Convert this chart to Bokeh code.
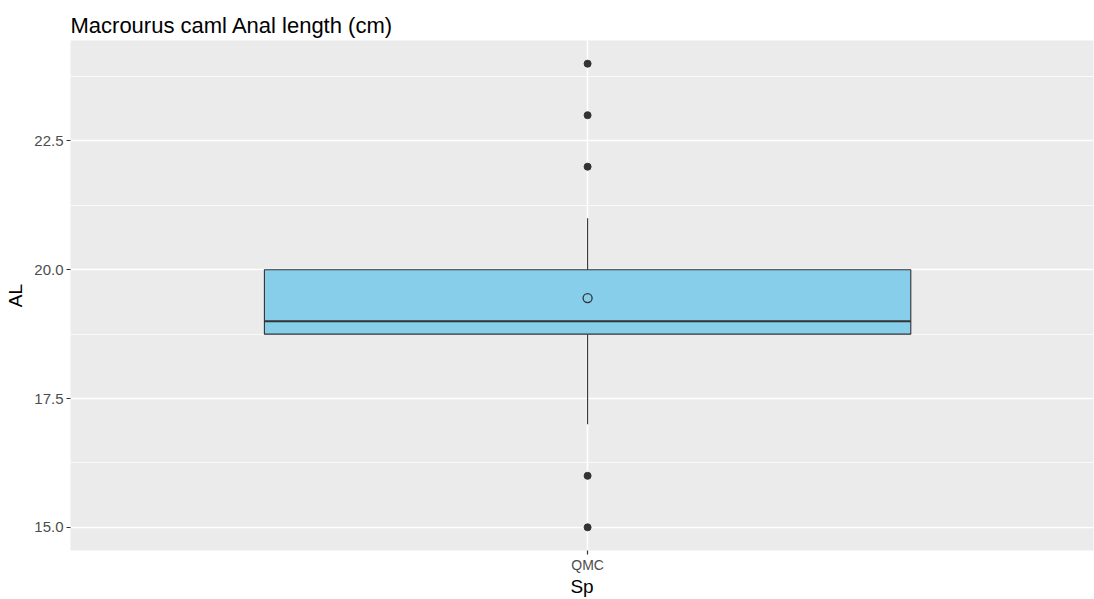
from bokeh.plotting import figure
from bokeh.models import FixedTicker, Range1d
from bokeh.embed import file_html
from bokeh.resources import INLINE

# ---- data ----
categories = ["QMC"]
q1 = [18.75]
median = [19.0]
q3 = [20.0]
whisker_low = [17.0]
whisker_high = [21.0]
means = [19.45]
outlier_values = [24.0, 23.0, 22.0, 16.0, 15.0]
y_ticks = [15.0, 17.5, 20.0, 22.5]
y_minor = [16.25, 18.75, 21.25, 23.75]

xpos = [i + 1 for i in range(len(categories))]
box_w = 0.75

p = figure(width=1094, height=599, output_backend="svg", toolbar_location=None,
           x_range=Range1d(0.4, 1.587), y_range=Range1d(14.55, 24.45),
           min_border_left=70, min_border_top=40, min_border_right=1,
           min_border_bottom=48)

p.background_fill_color = "#EBEBEB"
p.border_fill_color = "white"
p.outline_line_color = None

# title
p.title.text = "Macrourus caml Anal length (cm)"
p.title.text_font = "Liberation Sans"
p.title.text_font_size = "22px"
p.title.text_font_style = "normal"
p.title.text_color = "black"
p.title.align = "left"
p.title.offset = 0
p.title.standoff = 6

# grid
p.ygrid.ticker = FixedTicker(ticks=y_ticks, minor_ticks=y_minor)
p.ygrid.grid_line_color = "white"
p.ygrid.grid_line_width = 1.5
p.ygrid.minor_grid_line_color = "white"
p.ygrid.minor_grid_line_width = 0.75
p.xgrid.ticker = FixedTicker(ticks=xpos)
p.xgrid.grid_line_color = "white"
p.xgrid.grid_line_width = 1.5

# axes
for ax in (p.xaxis[0], p.yaxis[0]):
    ax.axis_line_color = None
    ax.major_tick_line_color = "#333333"
    ax.major_tick_line_width = 1.2
    ax.major_tick_out = 4
    ax.major_tick_in = 0
    ax.minor_tick_line_color = None
    ax.major_label_text_font = "Liberation Sans"
    ax.major_label_text_color = "#4D4D4D"
    ax.axis_label_text_font = "Liberation Sans"
    ax.axis_label_text_font_size = "19px"
    ax.axis_label_text_font_style = "normal"
    ax.axis_label_text_color = "black"

p.yaxis.ticker = FixedTicker(ticks=y_ticks)
p.yaxis.major_label_overrides = {t: f"{t:.1f}" for t in y_ticks}
p.yaxis.major_label_text_font_size = "15px"
p.yaxis.major_label_standoff = 3
p.yaxis.axis_label = "AL"
p.yaxis.axis_label_standoff = 5

p.xaxis.ticker = FixedTicker(ticks=xpos)
p.xaxis.major_label_overrides = {x: c for x, c in zip(xpos, categories)}
p.xaxis.major_label_text_font_size = "14px"
p.xaxis.major_label_standoff = 2
p.xaxis.axis_label = "Sp"
p.xaxis.axis_label_standoff = 0

# whiskers
p.segment(x0=xpos, y0=q3, x1=xpos, y1=whisker_high, line_color="#333333", line_width=1.1)
p.segment(x0=xpos, y0=whisker_low, x1=xpos, y1=q1, line_color="#333333", line_width=1.1)

# box
p.vbar(x=xpos, width=box_w, bottom=q1, top=q3, fill_color="#87CEEB",
       line_color="#333333", line_width=1.1)

# median
p.segment(x0=[x - box_w / 2 for x in xpos], y0=median,
          x1=[x + box_w / 2 for x in xpos], y1=median,
          line_color="#333333", line_width=2.2)

# outliers
p.scatter(x=[xpos[0]] * len(outlier_values), y=outlier_values, size=7,
          fill_color="#333333", line_color="#333333")

# mean
p.scatter(x=xpos, y=means, size=9, fill_color=None, line_color="#333333",
          line_width=1.3)

open("out.html", "w").write(file_html(p, INLINE))
